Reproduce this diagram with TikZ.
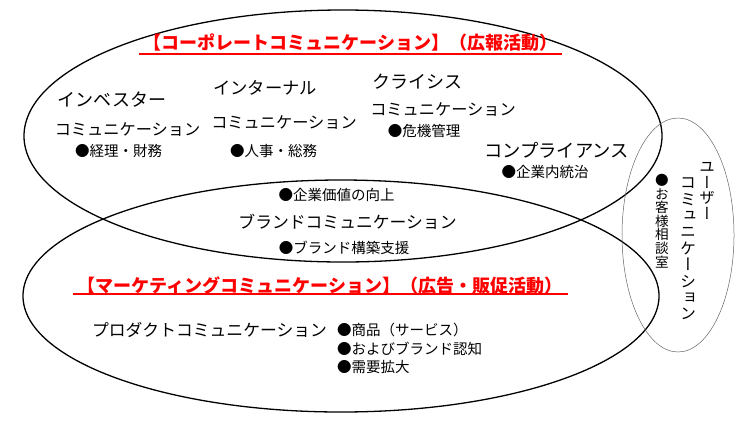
\documentclass[tikz,border=0pt]{standalone}
\usepackage{fontspec}
\setmainfont{Noto Sans CJK JP}
\newfontfamily\vfont[RawFeature=+vert]{Noto Sans CJK JP}
\begin{document}
\begin{tikzpicture}[x=1pt,y=-1pt,
 lab/.style={inner sep=0pt, font=\fontsize{#1}{18}\selectfont},
 lab/.default=16.5,
 bul/.style={inner sep=0pt, font=\fontsize{14.5}{16}\selectfont},
 ttl/.style={inner sep=0pt, text=red, font=\fontsize{18}{20}\selectfont\bfseries},
 vlab/.style={inner sep=0pt, align=center},
 big/.style={draw=black, line width=1.3pt},
 small/.style={draw=black!60, line width=0.5pt},
 uline/.style={draw=red, line width=1.3pt}]
\fill[white] (0,0) rectangle (743,421);
\useasboundingbox (0,0) rectangle (743,421);
% circles
\draw[big] (343,136) ellipse [x radius=319pt, y radius=126pt];
\draw[big] (341,296) ellipse [x radius=318pt, y radius=116pt];
\draw[small] (678,235) ellipse [x radius=56pt, y radius=117pt];
% titles
\node[ttl] (t1) at (350.5,43) {【コーポレートコミュニケーション】（広報活動）};
\coordinate (u1a) at (139,54); \coordinate (u1b) at (562,54);
\draw[uline] (u1a) -- (u1b);
\node[ttl] (t2) at (320,286) {【マーケティングコミュニケーション】（広告・販促活動）};
\coordinate (u2a) at (73,294); \coordinate (u2b) at (568,294);
\draw[uline] (u2a) -- (u2b);
% corporate group
\node[lab=18] (inv1) at (112,100) {インベスター};
\node[lab=16.2] (inv2) at (127.5,130) {コミュニケーション};
\node[bul] (inv3) at (118.5,151) {●経理・財務};
\node[lab=17.3] (int1) at (265,88) {インターナル};
\node[lab=16.2] (int2) at (284,123) {コミュニケーション};
\node[bul] (int3) at (273.5,151) {●人事・総務};
\node[lab=18] (cri1) at (417.5,82) {クライシス};
\node[lab=16.2] (cri2) at (443,110) {コミュニケーション};
\node[bul] (cri3) at (424,131) {●危機管理};
\node[lab=18.3] (com1) at (556.5,150) {コンプライアンス};
\node[bul] (com2) at (545,172) {●企業内統治};
% brand
\node[bul] (br1) at (336.5,195) {●企業価値の向上};
\node[lab=16.8] (br2) at (347.5,222) {ブランドコミュニケーション};
\node[bul] (br3) at (344,248) {●ブランド構築支援};
% product
\node[lab=16.8] (pr1) at (209.5,330) {プロダクトコミュニケーション};
\node[bul, anchor=west] (pr2) at (337,330) {●商品（サービス）};
\node[bul, anchor=west] (pr3) at (337,349) {●およびブランド認知};
\node[bul, anchor=west] (pr4) at (337,367) {●需要拡大};
% user
\node[vlab, font=\fontsize{15.5}{15.5}\selectfont\vfont] (us1) at (707,191) {ユ\\ー\\ザ\\ー};
\node[vlab, font=\fontsize{16}{16.4}\selectfont\vfont] (us2) at (688,249) {コ\\ミ\\ュ\\ニ\\ケ\\ー\\シ\\ョ\\ン};
\node[vlab, font=\fontsize{13.6}{13.6}\selectfont\vfont] (us3) at (662,221) {●\\お\\客\\様\\相\\談\\室};
\end{tikzpicture}
\end{document}
